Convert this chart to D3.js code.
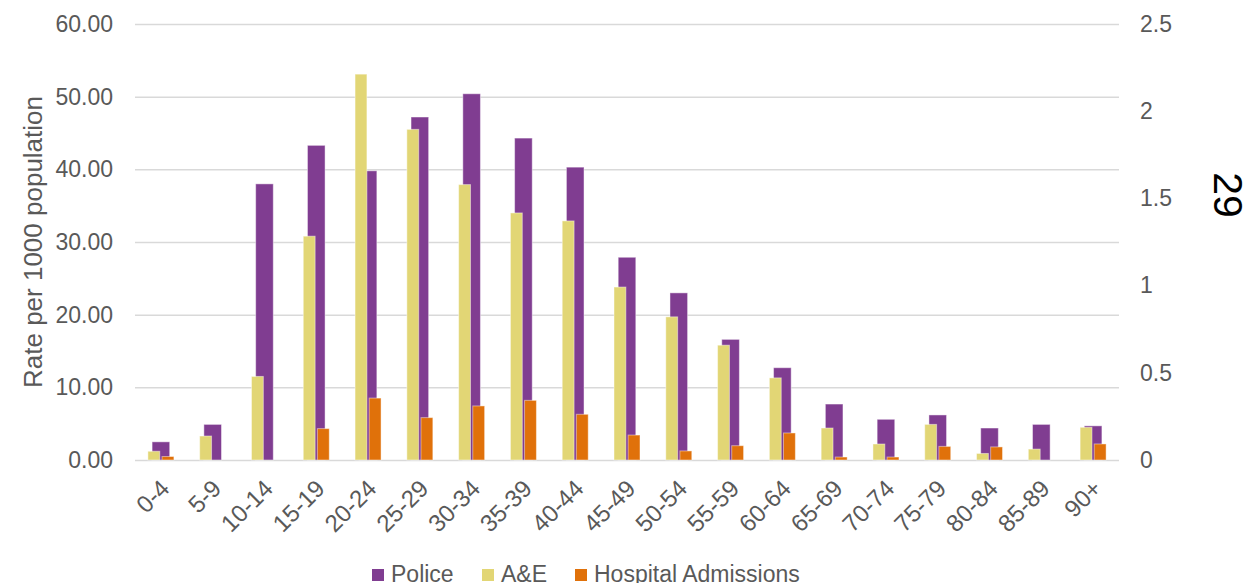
<!DOCTYPE html>
<html>
<head>
<meta charset="utf-8">
<script src="https://cdn.jsdelivr.net/npm/d3@7"></script>
<style>
  body { margin: 0; background: #fff; }
  svg text { font-family: "Liberation Sans", Arial, sans-serif; }
</style>
</head>
<body>
<div id="chart"></div>
<script>
// data
const age_groups = ["0-4", "5-9", "10-14", "15-19", "20-24", "25-29", "30-34", "35-39", "40-44",
                    "45-49", "50-54", "55-59", "60-64", "65-69", "70-74", "75-79", "80-84", "85-89", "90+"]
const police = [2.5, 4.9, 38.0, 43.3, 39.8, 47.2, 50.4, 44.3, 40.3, 27.9, 23.0, 16.6, 12.7, 7.7, 5.6, 6.2, 4.4, 4.9, 4.7]
const ae = [1.2, 3.3, 11.5, 30.8, 53.1, 45.5, 37.9, 34.0, 32.9, 23.8, 19.7, 15.8, 11.3, 4.4, 2.2, 4.9, 0.9, 1.5, 4.5]
const hospital = [0.02, 0, 0, 0.18, 0.355, 0.243, 0.31, 0.342, 0.262, 0.143, 0.052, 0.082, 0.155, 0.017, 0.017, 0.078, 0.075, 0, 0.092]
const left_ticks = [0, 10, 20, 30, 40, 50, 60]
const right_ticks = [0, 0.5, 1, 1.5, 2, 2.5]
const legend_items = ["Police", "A&E", "Hospital Admissions"]

// constants
const width = 1246
const height = 583
const margin = {left: 135, right: 127, top: 24, bottom: 123}
const plot_w = width - margin.left - margin.right
const plot_h = height - margin.top - margin.bottom
const col_police = "#803d91"
const col_ae = "#e2d675"
const col_hosp = "#e0710a"
const col_text = "#595959"
const col_grid = "#d9d9d9"
const font_size = 23

const svg = d3.select("#chart")
    .append("svg")
        .attr("width", width)
        .attr("height", height)

const g = svg.append("g")
    .attr("transform", `translate(${margin.left}, ${margin.top})`)

// scales
const x = d3.scaleBand()
    .domain(age_groups)
    .range([0, plot_w])
    .padding(0)

const y = d3.scaleLinear()
    .domain([0, 60])
    .range([plot_h, 0])

const y2 = d3.scaleLinear()
    .domain([0, 2.5])
    .range([plot_h, 0])

// inner band for A&E + hospital pair
const pair_w = 26
const x_pair = d3.scaleBand()
    .domain(["ae", "hosp"])
    .range([-pair_w / 2, pair_w / 2])
    .paddingInner(0.16)

const police_w = x.bandwidth() * 0.34

// gridlines + left axis
const y_axis = g.append("g")
    .call(d3.axisLeft(y)
        .tickValues(left_ticks)
        .tickSize(-plot_w)
        .tickFormat(d3.format(".2f"))
        .tickPadding(22))
y_axis.select(".domain").remove()
y_axis.selectAll("line")
    .attr("stroke", col_grid)
    .attr("stroke-width", 1.5)
y_axis.selectAll("text")
    .attr("fill", col_text)
    .style("font-size", font_size + "px")

// right axis
const y2_axis = g.append("g")
    .attr("transform", `translate(${plot_w}, 0)`)
    .call(d3.axisRight(y2)
        .tickValues(right_ticks)
        .tickSize(0)
        .tickFormat(d => d3.format("")(d))
        .tickPadding(21))
y2_axis.select(".domain").remove()
y2_axis.selectAll("text")
    .attr("fill", col_text)
    .style("font-size", font_size + "px")

// x axis labels
const x_axis = g.append("g")
    .attr("transform", `translate(0, ${plot_h})`)
    .call(d3.axisBottom(x).tickSize(0).tickPadding(0))
x_axis.select(".domain").remove()
x_axis.selectAll("text")
    .attr("fill", col_text)
    .style("font-size", "24px")
    .attr("text-anchor", "end")
    .attr("dy", 0)
    .attr("y", 0)
    .attr("transform", "translate(10, 30) rotate(-45)")

// police bars
g.append("g").selectAll("rect")
    .data(police)
    .join("rect")
        .attr("x", (d, i) => x(age_groups[i]) + x.bandwidth() / 2 - police_w / 2)
        .attr("y", d => y(d))
        .attr("width", police_w)
        .attr("height", d => plot_h - y(d))
        .attr("fill", col_police)
        .attr("stroke", "#fff")
        .attr("stroke-opacity", 0.45)
        .attr("stroke-width", 1)

// A&E bars
g.append("g").selectAll("rect")
    .data(ae)
    .join("rect")
        .attr("x", (d, i) => x(age_groups[i]) + x.bandwidth() / 2 + x_pair("ae"))
        .attr("y", d => y(d))
        .attr("width", x_pair.bandwidth())
        .attr("height", d => plot_h - y(d))
        .attr("fill", col_ae)
        .attr("stroke", "#fff")
        .attr("stroke-opacity", 0.45)
        .attr("stroke-width", 1)

// hospital admissions bars (secondary axis)
g.append("g").selectAll("rect")
    .data(hospital)
    .join("rect")
        .attr("x", (d, i) => x(age_groups[i]) + x.bandwidth() / 2 + x_pair("hosp"))
        .attr("y", d => y2(d))
        .attr("width", x_pair.bandwidth())
        .attr("height", d => plot_h - y2(d))
        .attr("fill", col_hosp)
        .attr("stroke", "#fff")
        .attr("stroke-opacity", d => d > 0 ? 0.45 : 0)
        .attr("stroke-width", 1)

// y axis title
svg.append("text")
    .attr("transform", `translate(42, ${margin.top + plot_h / 2}) rotate(-90)`)
    .attr("text-anchor", "middle")
    .attr("fill", col_text)
    .style("font-size", "26px")
    .text("Rate per 1000 population")

// page number
svg.append("text")
    .attr("transform", "translate(1214, 195) rotate(90)")
    .attr("text-anchor", "middle")
    .attr("fill", "#000")
    .style("font-size", "41px")
    .text("29")

// legend
const legend_colors = [col_police, col_ae, col_hosp]
const legend_x = [372, 482, 575]
const legend = svg.append("g")
legend.selectAll("rect")
    .data(legend_items)
    .join("rect")
        .attr("x", (d, i) => legend_x[i])
        .attr("y", 569)
        .attr("width", 12)
        .attr("height", 12)
        .attr("fill", (d, i) => legend_colors[i])
legend.selectAll("text")
    .data(legend_items)
    .join("text")
        .attr("x", (d, i) => legend_x[i] + 19)
        .attr("y", 582)
        .attr("fill", col_text)
        .style("font-size", font_size + "px")
        .text(d => d)
</script>
</body>
</html>
